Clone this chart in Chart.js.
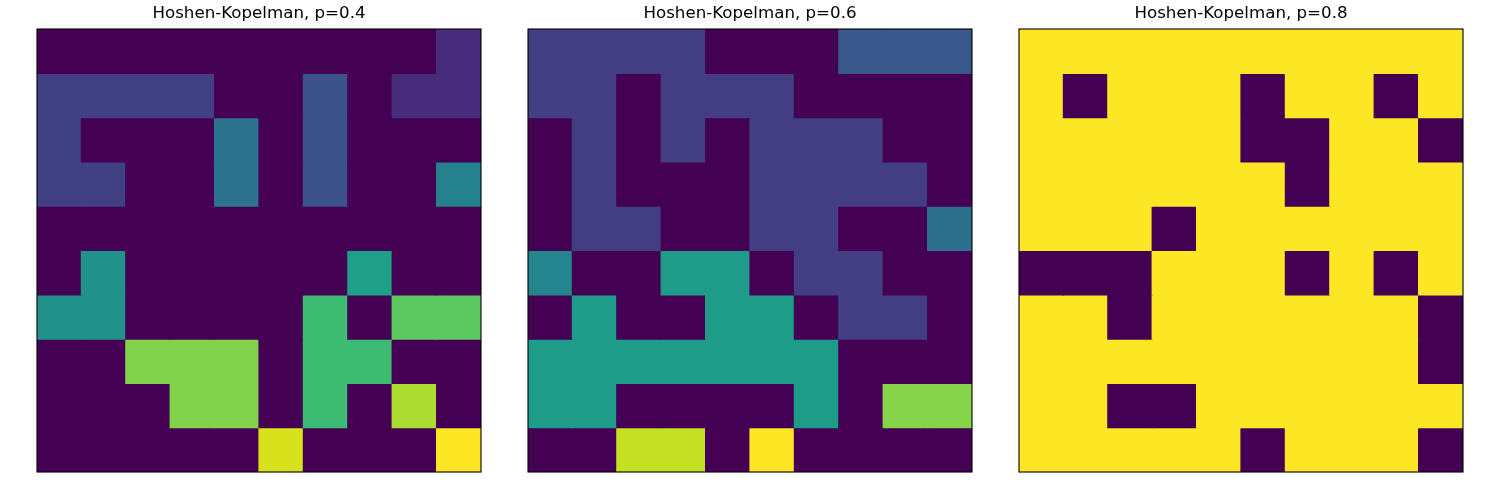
<!DOCTYPE html>
<html><head><meta charset="utf-8">
<script src="https://cdn.jsdelivr.net/npm/chart.js@4/dist/chart.umd.min.js"></script>
<style>
body{margin:0;background:#fff;width:1500px;height:500px;overflow:hidden;position:relative}
canvas{position:absolute;top:0}
</style>
</head><body>
<canvas id="c1" width="448" height="474" style="left:35px;width:448px;height:474px"></canvas>
<canvas id="c2" width="448" height="474" style="left:526px;width:448px;height:474px"></canvas>
<canvas id="c3" width="448" height="474" style="left:1017px;width:448px;height:474px"></canvas>
<script>
// ---- data ----
const columns = ['0','1','2','3','4','5','6','7','8','9'];
const titles = ['Hoshen-Kopelman, p=0.4','Hoshen-Kopelman, p=0.6','Hoshen-Kopelman, p=0.8'];

// cluster labels per cell (0 = empty), one array per row, top row first
const grid04 = [
  [0,0,0,0,0,0,0,0,0,2],
  [3,3,3,3,0,0,4,0,2,2],
  [3,0,0,0,6,0,4,0,0,0],
  [3,3,0,0,6,0,4,0,0,7],
  [0,0,0,0,0,0,0,0,0,0],
  [0,8,0,0,0,0,0,9,0,0],
  [8,8,0,0,0,0,11,0,12,12],
  [0,0,13,13,13,0,11,11,0,0],
  [0,0,0,13,13,0,11,0,14,0],
  [0,0,0,0,0,15,0,0,0,16]
];
const maxLabel04 = 16;

const grid06 = [
  [2,2,2,2,0,0,0,3,3,3],
  [2,2,0,2,2,2,0,0,0,0],
  [0,2,0,2,0,2,2,2,0,0],
  [0,2,0,0,0,2,2,2,2,0],
  [0,2,2,0,0,2,2,0,0,4],
  [5,0,0,6,6,0,2,2,0,0],
  [0,6,0,0,6,6,0,2,2,0],
  [6,6,6,6,6,6,6,0,0,0],
  [6,6,0,0,0,0,6,0,9,9],
  [0,0,10,10,0,11,0,0,0,0]
];
const maxLabel06 = 11;

const grid08 = [
  [1,1,1,1,1,1,1,1,1,1],
  [1,0,1,1,1,0,1,1,0,1],
  [1,1,1,1,1,0,0,1,1,0],
  [1,1,1,1,1,1,0,1,1,1],
  [1,1,1,0,1,1,1,1,1,1],
  [0,0,0,1,1,1,0,1,0,1],
  [1,1,0,1,1,1,1,1,1,0],
  [1,1,1,1,1,1,1,1,1,0],
  [1,1,0,0,1,1,1,1,1,1],
  [1,1,1,1,1,0,1,1,1,0]
];
const maxLabel08 = 1;

// ---- viridis colormap ----
const VIR = ['#440154','#471365','#482475','#463480','#414487','#3b528b','#355f8d','#2f6c8e','#2a788e','#25848e',
             '#21918c','#1e9c89','#22a884','#2fb47c','#44bf70','#5ec962','#7ad151','#9bd93c','#bddf26','#dfe318','#fde725'];
function hex2rgb(h){return [parseInt(h.slice(1,3),16),parseInt(h.slice(3,5),16),parseInt(h.slice(5,7),16)];}
function viridis(t){
  t=Math.max(0,Math.min(1,t));
  const f=t*(VIR.length-1), i=Math.min(Math.floor(f),VIR.length-2), u=f-i;
  const a=hex2rgb(VIR[i]), b=hex2rgb(VIR[i+1]);
  const c=a.map((v,k)=>Math.round(v+(b[k]-v)*u));
  return 'rgb('+c.join(',')+')';
}

const frame = {
  id:'frame',
  afterDraw(chart){
    const {ctx, chartArea:a} = chart;
    ctx.save();
    ctx.strokeStyle='#000';
    ctx.lineWidth=1.1;
    ctx.strokeRect(a.left, a.top, a.right-a.left, a.bottom-a.top);
    ctx.restore();
  }
};

function makeChart(id, grid, maxLabel, title){
  const datasets = grid.map((row, r) => ({
    data: row.map(() => [r, r+1]),
    backgroundColor: row.map(v => viridis(v/maxLabel)),
    borderWidth: 0,
    inflateAmount: 0.6,
    grouped: false,
    categoryPercentage: 1,
    barPercentage: 1
  }));
  new Chart(document.getElementById(id), {
    type:'bar',
    data:{labels: columns, datasets},
    options:{
      responsive:false,
      animation:false,
      devicePixelRatio:1,
      layout:{padding:{left:2,right:2,top:0,bottom:2}},
      plugins:{
        legend:{display:false},
        tooltip:{enabled:false},
        title:{display:true,text:title,color:'#000',
          font:{family:'DejaVu Sans',size:16.67,weight:'normal',lineHeight:1.2},
          padding:{top:3.7,bottom:5.3}}
      },
      scales:{
        x:{display:false,offset:true},
        y:{display:false,min:0,max:10,reverse:true}
      }
    },
    plugins:[frame]
  });
}

makeChart('c1', grid04, maxLabel04, titles[0]);
makeChart('c2', grid06, maxLabel06, titles[1]);
makeChart('c3', grid08, maxLabel08, titles[2]);
</script>
</body></html>
